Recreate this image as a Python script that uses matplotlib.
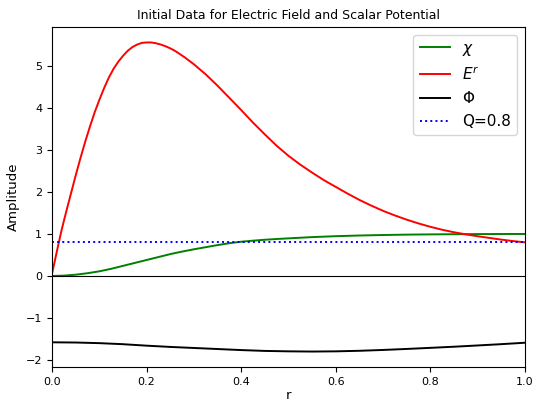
import matplotlib
matplotlib.use("Agg")
import matplotlib.pyplot as plt

# radial coordinate samples and curve values
r_E = [0.0, 0.01, 0.02, 0.03, 0.04, 0.05, 0.06, 0.07, 0.08, 0.09, 0.10,
       0.11, 0.12, 0.13, 0.14, 0.15, 0.16, 0.17, 0.18, 0.19, 0.20, 0.21,
       0.22, 0.23, 0.24, 0.25, 0.26, 0.28, 0.30, 0.325, 0.35, 0.375, 0.40,
       0.425, 0.45, 0.475, 0.50, 0.525, 0.55, 0.575, 0.60, 0.625, 0.65,
       0.675, 0.70, 0.725, 0.75, 0.775, 0.80, 0.825, 0.85, 0.875, 0.90,
       0.925, 0.95, 0.975, 1.0]
E_r = [0.05, 0.57, 1.08, 1.53, 1.96, 2.39, 2.80, 3.19, 3.55, 3.89, 4.19,
       4.47, 4.72, 4.93, 5.10, 5.24, 5.36, 5.45, 5.51, 5.55, 5.56, 5.56,
       5.54, 5.51, 5.47, 5.42, 5.36, 5.21, 5.04, 4.80, 4.53, 4.24, 3.95,
       3.65, 3.37, 3.10, 2.86, 2.65, 2.46, 2.28, 2.12, 1.96, 1.81,
       1.675, 1.55, 1.44, 1.34, 1.25, 1.17, 1.10, 1.04, 0.99, 0.945,
       0.905, 0.865, 0.83, 0.80]

r_chi = [0.0, 0.025, 0.05, 0.075, 0.10, 0.125, 0.15, 0.175, 0.20, 0.225,
         0.25, 0.275, 0.30, 0.325, 0.35, 0.375, 0.40, 0.425, 0.45, 0.475,
         0.50, 0.55, 0.60, 0.65, 0.70, 0.75, 0.80, 0.90, 1.00]
chi = [0.0, 0.008, 0.03, 0.065, 0.11, 0.17, 0.24, 0.31, 0.38, 0.45,
       0.52, 0.58, 0.635, 0.685, 0.735, 0.78, 0.815, 0.84, 0.862, 0.88,
       0.895, 0.925, 0.947, 0.963, 0.975, 0.984, 0.99, 0.997, 1.0]

r_phi = [0.0, 0.05, 0.1, 0.15, 0.2, 0.25, 0.3, 0.35, 0.4, 0.45, 0.5, 0.55,
         0.6, 0.65, 0.7, 0.75, 0.8, 0.85, 0.9, 0.95, 1.0]
phi = [-1.58, -1.585, -1.60, -1.625, -1.66, -1.69, -1.715, -1.74, -1.765,
       -1.785, -1.795, -1.80, -1.795, -1.782, -1.762, -1.738, -1.712, -1.685,
       -1.655, -1.624, -1.59]

Q = 0.8
labels = [r'$\chi$', r'$E^r$', r'$\Phi$', 'Q=0.8']

fig = plt.figure(figsize=(5.35, 4.01), dpi=100)
ax = fig.add_axes([52/535, (401-367)/401, 473/535, 340/401])

ax.plot(r_chi, chi, color='green', lw=1.4, label=labels[0])
ax.plot(r_E, E_r, color='red', lw=1.4, label=labels[1])
ax.plot(r_phi, phi, color='black', lw=1.4, label=labels[2])
ax.axhline(Q, color='blue', ls=':', lw=1.4, label=labels[3])
ax.axhline(0, color='black', lw=0.8)

ax.set_xlim(0, 1)
ax.set_title('Initial Data for Electric Field and Scalar Potential', fontsize=9)
ax.set_xlabel('r', fontsize=9.5, labelpad=1.5)
ax.set_ylabel('Amplitude', fontsize=9.5)
ax.tick_params(labelsize=8)
ax.legend(loc='upper right', fontsize=11)

fig.savefig('out.png', dpi=100)
